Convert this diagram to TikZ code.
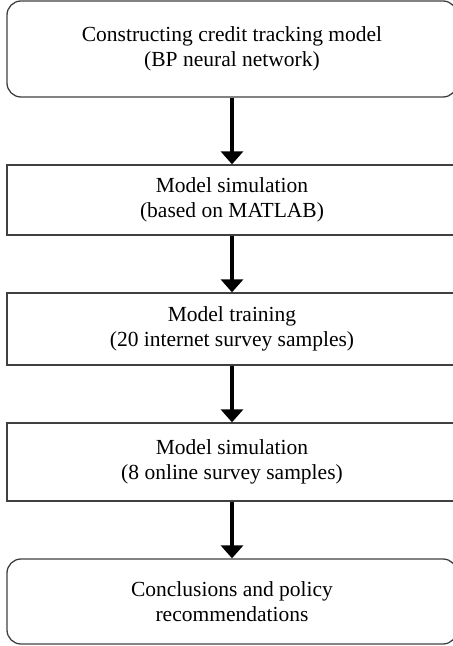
\documentclass[tikz,border=0pt]{standalone}
\usepackage{fontspec}
\setmainfont{Liberation Serif}
\usetikzlibrary{arrows.meta}
\begin{document}
\begin{tikzpicture}[x=1pt,y=1pt,
  box/.style={draw=black!75,line width=0.65pt,minimum width=225pt,align=center,
    font=\fontsize{10.75}{12.5}\selectfont,inner sep=0pt},
  roundbox/.style={box,rounded corners=7pt},
  flow/.style={line width=2pt,-{Triangle[width=11pt,length=6.5pt]}}]
\useasboundingbox (0,0) rectangle (226,-323);

\node[roundbox,minimum height=48pt] (build) at (116,-24.5)
  {Constructing credit tracking model\\(BP neural network)};
\node[box,minimum height=35pt] (sim) at (116,-100)
  {Model simulation\\(based on MATLAB)};
\node[box,minimum height=36pt] (train) at (116,-164.5)
  {Model training\\(20 internet survey samples)};
\node[box,minimum height=39pt] (test) at (116,-231)
  {Model simulation\\(8 online survey samples)};
\node[roundbox,minimum height=42.5pt] (concl) at (116,-300.75)
  {Conclusions and policy\\recommendations};

\draw[flow] (build) -- (sim);
\draw[flow] (sim) -- (train);
\draw[flow] (train) -- (test);
\draw[flow] (test) -- (concl);
\end{tikzpicture}
\end{document}
